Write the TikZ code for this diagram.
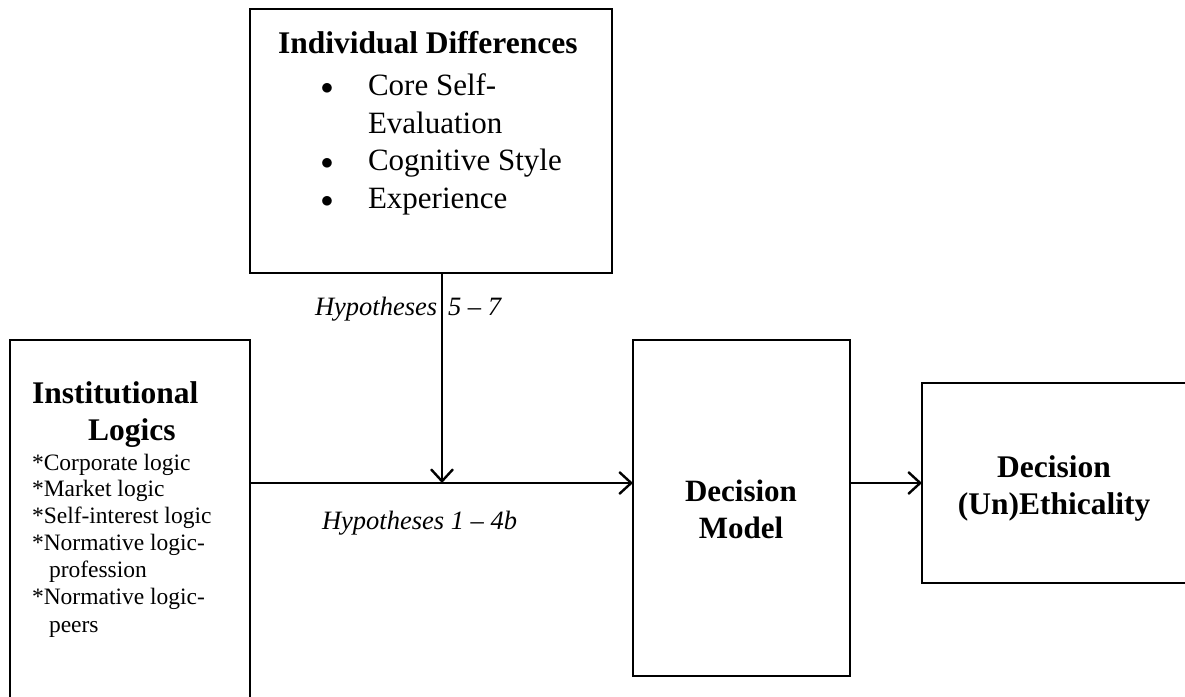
\documentclass[tikz,border=0pt]{standalone}
\usepackage{fontspec}
\setmainfont{Liberation Serif}
\usetikzlibrary{arrows.meta}
\begin{document}
\begin{tikzpicture}[x=1pt,y=1pt,
  box/.style={draw=black,line width=2.6pt,rectangle,inner sep=0pt,outer sep=0pt,anchor=north west},
  conn/.style={line width=2.4pt,-{Straight Barb[length=12pt,width=22pt,line width=2.4pt]}},
  txt/.style={inner sep=0pt,outer sep=0pt,anchor=base west},
  ctxt/.style={inner sep=0pt,outer sep=0pt,anchor=base},
  dot/.style={inner sep=0pt,outer sep=0pt,anchor=base,font=\fontsize{42}{44}\selectfont},
  bul/.style={inner sep=0pt,outer sep=0pt,anchor=base west,font=\fontsize{31}{36}\selectfont},
  hyp/.style={inner sep=0pt,outer sep=0pt,anchor=base west,font=\fontsize{26.5}{30}\selectfont\itshape}]
\useasboundingbox (0,0) rectangle (1185,-696);
\clip (0,0) rectangle (1185,-696);
% boxes
\node[box,minimum width=362pt,minimum height=264pt] (ind) at (250,-9) {};
\node[box,minimum width=240pt,minimum height=380pt] (inst) at (10,-340) {};
\node[box,minimum width=217pt,minimum height=336pt] (dm) at (633,-340) {};
\node[box,minimum width=300pt,minimum height=200pt] (eth) at (922,-383) {};
% Individual differences text
\node[txt,font=\fontsize{31.5}{36}\selectfont\bfseries] (indt) at (278,-53) {Individual Differences};
\node[dot] (b1) at (327,-94) {$\bullet$};
\node[dot] (b2) at (327,-169) {$\bullet$};
\node[dot] (b3) at (327,-207) {$\bullet$};
\node[bul] (i1) at (368,-95) {Core Self-};
\node[bul] (i2) at (368,-133) {Evaluation};
\node[bul] (i3) at (368,-170) {Cognitive Style};
\node[bul] (i4) at (368,-208) {Experience};
% Institutional logics text
\node[txt,font=\fontsize{31.5}{36}\selectfont\bfseries] (it1) at (32,-403) {Institutional};
\node[txt,font=\fontsize{31.5}{36}\selectfont\bfseries] (it2) at (88,-440) {Logics};
\node[txt,font=\fontsize{23.5}{27}\selectfont] (l1) at (32,-470) {*Corporate logic};
\node[txt,font=\fontsize{23.5}{27}\selectfont] (l2) at (32,-496) {*Market logic};
\node[txt,font=\fontsize{23.5}{27}\selectfont] (l3) at (32,-523) {*Self-interest logic};
\node[txt,font=\fontsize{23.5}{27}\selectfont] (l4) at (32,-550) {*Normative logic-};
\node[txt,font=\fontsize{23.5}{27}\selectfont] (l5) at (49,-577) {profession};
\node[txt,font=\fontsize{23.5}{27}\selectfont] (l6) at (32,-604) {*Normative logic-};
\node[txt,font=\fontsize{23.5}{27}\selectfont] (l7) at (49,-632) {peers};
% Decision model
\node[ctxt,font=\fontsize{31}{36}\selectfont\bfseries] (dm1) at (741,-501) {Decision};
\node[ctxt,font=\fontsize{31}{36}\selectfont\bfseries] (dm2) at (741,-538) {Model};
% Ethicality
\node[ctxt,font=\fontsize{31.5}{36}\selectfont\bfseries] (e1) at (1054,-477) {Decision};
\node[ctxt,font=\fontsize{31.5}{36}\selectfont\bfseries] (e2) at (1054,-514) {(Un)Ethicality};
% labels
\node[hyp] (h57a) at (315,-315) {Hypotheses};
\node[hyp] (h57b) at (448,-315) {5 – 7};
\node[hyp] (h14) at (322,-529) {Hypotheses 1 – 4b};
% connectors
\coordinate (h) at (442,-483);
\draw[conn] (inst.east |- h) -- (dm.west |- h);
\draw[conn] (ind.south -| h) -- (h);
\draw[conn] (dm.east |- h) -- (eth.west |- h);
\end{tikzpicture}
\end{document}
